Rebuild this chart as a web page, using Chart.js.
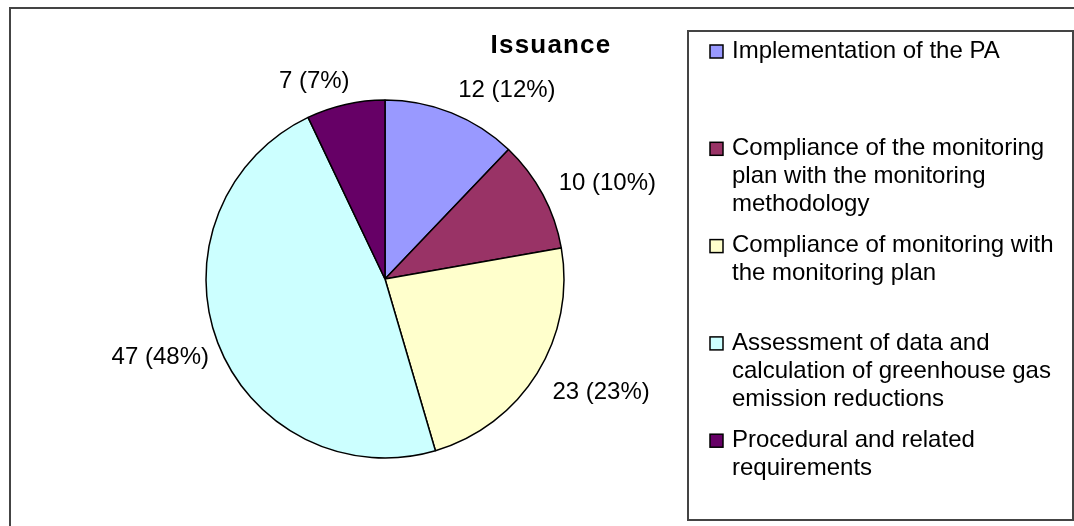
<!DOCTYPE html>
<html>
<head>
<meta charset="utf-8">
<title>Issuance</title>
<script src="https://cdn.jsdelivr.net/npm/chart.js@4"></script>
<style>
    html, body { margin: 0; padding: 0; background: #fff; }
    #wrap { width: 1074px; height: 526px; position: relative; }
</style>
</head>
<body>
<div id="wrap"><canvas id="issuance-chart"></canvas></div>
<script>
// Chart data
const chartTitle = "Issuance";
const categories = [
    "Implementation of the PA",
    "Compliance of the monitoring plan with the monitoring methodology",
    "Compliance of monitoring with the monitoring plan",
    "Assessment of data and calculation of greenhouse gas emission reductions",
    "Procedural and related requirements"
];
// legend text wrapped the way the original shows it
const legendLines = [
    ["Implementation of the PA"],
    ["Compliance of the monitoring", "plan with the monitoring", "methodology"],
    ["Compliance of monitoring with", "the monitoring plan"],
    ["Assessment of data and", "calculation of greenhouse gas", "emission reductions"],
    ["Procedural and related", "requirements"]
];
const values = [12, 10, 23, 47, 7];
const sliceColors = ["#9999FF", "#993366", "#FFFFCC", "#CCFFFF", "#660066"];

const FONT = "'Liberation Sans', Arial, sans-serif";

// Percentages that add up to 100 (largest remainder, like Excel shows)
function percentages(vals) {
    const total = vals.reduce((a, b) => a + b, 0);
    const raw = vals.map(v => v / total * 100);
    const out = raw.map(Math.floor);
    let left = 100 - out.reduce((a, b) => a + b, 0);
    const order = raw.map((r, i) => i).sort((a, b) => (raw[b] - out[b]) - (raw[a] - out[a]));
    for (let k = 0; k < left; k++) out[order[k]]++;
    return out;
}

// Frame round the whole chart (right and bottom run off the picture)
const framePlugin = {
    id: 'frame',
    beforeDraw(chart) {
        const ctx = chart.ctx;
        ctx.save();
        ctx.fillStyle = '#fff';
        ctx.fillRect(0, 0, chart.width, chart.height);
        ctx.strokeStyle = '#444';
        ctx.lineWidth = 2;
        ctx.beginPath();
        ctx.moveTo(10, chart.height);
        ctx.lineTo(10, 8);
        ctx.lineTo(chart.width, 8);
        ctx.stroke();

        // title
        ctx.fillStyle = '#000';
        ctx.font = "bold 26px " + FONT;
        ctx.letterSpacing = "1.2px";
        ctx.textAlign = 'center';
        ctx.textBaseline = 'middle';
        ctx.fillText(chartTitle, 551, 46);
        ctx.restore();
    }
};

// "value (percent)" labels outside each slice
const sliceLabelPlugin = {
    id: 'sliceLabels',
    afterDatasetsDraw(chart) {
        const ctx = chart.ctx;
        const meta = chart.getDatasetMeta(0);
        const pcts = percentages(values);
        ctx.save();
        ctx.fillStyle = '#000';
        ctx.font = "24px " + FONT;
        ctx.textBaseline = 'middle';
        meta.data.forEach((arc, i) => {
            const p = arc.getProps(['x', 'y', 'startAngle', 'endAngle', 'outerRadius'], true);
            const mid = (p.startAngle + p.endAngle) / 2;
            const r = p.outerRadius + 18;
            const dx = Math.cos(mid);
            const dy = Math.sin(mid);
            let x = p.x + dx * r;
            let y = p.y + dy * r + dy * 6;
            if (dy > 0) y += 6;
            if (dx < 0) x += 8;
            ctx.textAlign = dx >= 0 ? 'left' : 'right';
            ctx.fillText(values[i] + " (" + pcts[i] + "%)", x, y);
        });
        ctx.restore();
    }
};

// Boxed legend on the right
const legendBoxPlugin = {
    id: 'legendBox',
    afterDraw(chart) {
        const ctx = chart.ctx;
        const box = { left: 688, top: 31, right: 1073, bottom: 520 };
        ctx.save();
        ctx.strokeStyle = '#444';
        ctx.lineWidth = 2;
        ctx.strokeRect(box.left, box.top, box.right - box.left, box.bottom - box.top);

        const step = 97.3;
        const lineH = 28;
        ctx.font = "24px " + FONT;
        ctx.textBaseline = 'middle';
        ctx.textAlign = 'left';
        legendLines.forEach((lines, i) => {
            const y0 = 51 + i * step;
            ctx.fillStyle = sliceColors[i];
            ctx.fillRect(710, y0 - 6, 13, 13);
            ctx.strokeStyle = '#000';
            ctx.lineWidth = 1.5;
            ctx.strokeRect(710, y0 - 6, 13, 13);
            ctx.fillStyle = '#000';
            lines.forEach((t, j) => ctx.fillText(t, 732, y0 + j * lineH));
        });
        ctx.restore();
    }
};

function initChart() {
    const ctx = document.getElementById('issuance-chart');
    new Chart(ctx, {
        type: 'pie',
        data: {
            labels: categories,
            datasets: [{
                data: values,
                backgroundColor: sliceColors,
                borderColor: '#000',
                borderWidth: 1.5
            }]
        },
        options: {
            responsive: true,
            maintainAspectRatio: false,
            animation: false,
            radius: 179,
            layout: { padding: { left: 206, right: 510, top: 100, bottom: 68 } },
            plugins: {
                legend: { display: false },
                title: { display: false },
                tooltip: { enabled: false }
            }
        },
        plugins: [framePlugin, sliceLabelPlugin, legendBoxPlugin]
    });
}
document.addEventListener("DOMContentLoaded", initChart);
</script>
</body>
</html>
